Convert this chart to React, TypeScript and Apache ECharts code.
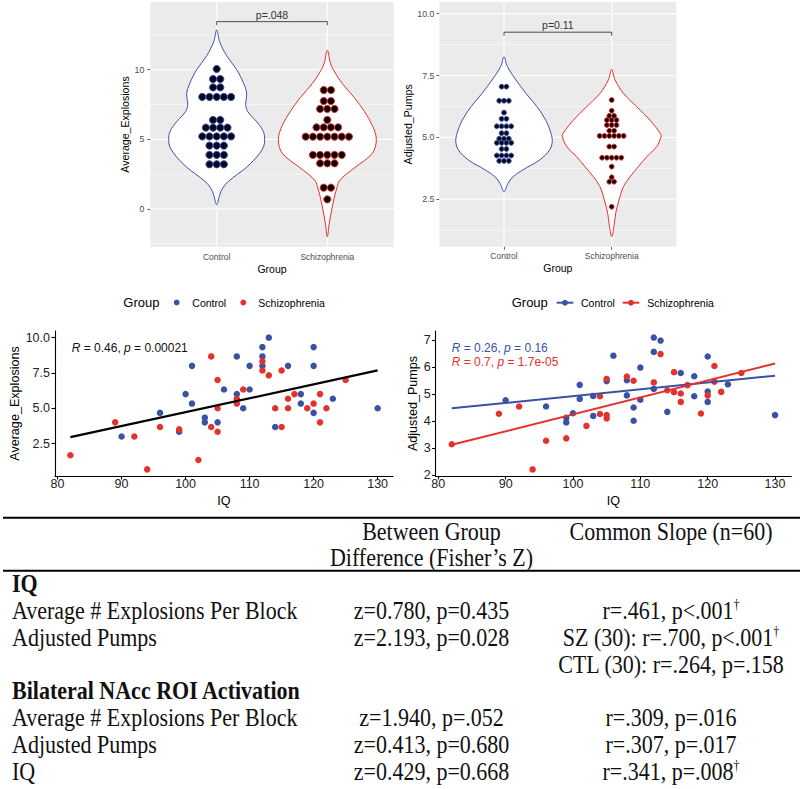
import React, { useEffect, useRef } from "react";
import * as echarts from "echarts";

const FONT = "Liberation Sans, Arial, Helvetica, sans-serif";
const SERIF = "Liberation Serif, 'Times New Roman', serif";
const BLUE = "#3a52a4";
const RED = "#e4312b";

const groupNames = ["Control", "Schizophrenia"];

// ---------- Top-left violin (Average_Explosions) ----------
const explCtrlViolinY = [0.3, 1.0, 1.5, 2.0, 2.5, 3.0, 3.5, 4.0, 4.5, 5.0, 5.5, 6.0, 6.5, 7.0, 7.5, 8.3, 9.0, 10.0, 11.0, 12.0, 12.85];
const explCtrlViolinW = [0, 0.027, 0.054, 0.108, 0.19, 0.271, 0.335, 0.389, 0.425, 0.434, 0.425, 0.389, 0.335, 0.28, 0.262, 0.271, 0.244, 0.181, 0.09, 0.027, 0];
const explSzViolinY = [-2.0, -1.0, 0.0, 0.5, 1.0, 1.5, 2.0, 2.5, 3.0, 4.0, 5.0, 6.0, 7.0, 8.0, 9.0, 10.0, 10.5, 11.4];
const explSzViolinW = [0, 0.018, 0.041, 0.054, 0.068, 0.086, 0.108, 0.172, 0.253, 0.407, 0.443, 0.407, 0.335, 0.244, 0.136, 0.054, 0.027, 0];
const explCtrlDotVal = [10.05, 9.33, 8.73, 8.04, 6.39, 5.84, 5.21, 4.55, 3.88, 3.21];
const explCtrlDotN = [1, 2, 2, 5, 2, 4, 5, 3, 3, 3];
const explSzDotVal = [8.54, 7.75, 7.18, 6.39, 5.86, 5.19, 3.88, 3.28, 1.53, 0.69];
const explSzDotN = [2, 2, 3, 1, 4, 7, 5, 3, 2, 1];
const explBracketY = [13.2, 13.45];
const explPLabel = "p=.048";
const explTicks = [0, 5, 10];
const explMinorGrid = [-2.5, 2.5, 7.5, 12.5];

// ---------- Top-right violin (Adjusted_Pumps) ----------
const pumpCtrlViolinY = [2.81, 3.14, 3.41, 3.69, 4.09, 4.49, 4.83, 5.16, 5.70, 6.24, 6.78, 7.32, 7.86, 8.26];
const pumpCtrlViolinW = [0, 0.037, 0.084, 0.176, 0.331, 0.424, 0.448, 0.436, 0.387, 0.306, 0.204, 0.111, 0.031, 0];
const pumpSzViolinY = [0.99, 1.53, 1.93, 2.47, 3.01, 3.41, 3.82, 4.22, 4.63, 5.03, 5.16, 5.70, 6.24, 6.78, 7.32, 7.75];
const pumpSzViolinW = [0, 0.025, 0.037, 0.068, 0.109, 0.17, 0.248, 0.325, 0.418, 0.458, 0.452, 0.356, 0.232, 0.109, 0.031, 0];
const pumpCtrlDotVal = [7.05, 6.48, 6.0, 5.75, 5.45, 5.17, 4.95, 4.78, 4.53, 4.27, 4.05];
const pumpCtrlDotN = [2, 3, 1, 2, 4, 2, 3, 4, 2, 4, 3];
const pumpSzDotVal = [6.51, 6.08, 5.87, 5.7, 5.5, 5.27, 5.06, 4.63, 4.18, 3.82, 3.39, 3.21, 2.2];
const pumpSzDotN = [1, 1, 2, 3, 3, 2, 6, 2, 5, 1, 1, 2, 1];
const pumpBracketY = [9.11, 9.25];
const pumpPLabel = "p=0.11";
const pumpTicks = [2.5, 5, 7.5, 10];
const pumpMinorGrid = [1.25, 3.75, 6.25, 8.75];

// ---------- Bottom-left scatter (IQ vs Average_Explosions) ----------
const explCtrlIQ = [90, 96, 99, 100, 101, 101, 103, 103, 105, 106, 108, 108, 109, 110, 110, 112, 112, 112, 113, 114, 116, 118, 118, 120, 120, 120, 123, 130];
const explCtrlVal = [3.0, 4.67, 3.33, 6.0, 8.0, 5.33, 4.33, 4.0, 4.0, 6.33, 8.67, 6.0, 5.0, 8.0, 6.33, 9.33, 8.67, 8.0, 10.0, 3.67, 8.0, 6.0, 5.33, 9.33, 8.0, 4.67, 5.67, 5.0];
const explSzIQ = [82, 89, 92, 94, 96, 99, 102, 104, 104, 105, 105, 105, 108, 108, 109, 112, 112, 113, 114, 115, 115, 116, 116, 117, 119, 120, 121, 121, 122, 125];
const explSzVal = [1.67, 4.0, 3.0, 0.67, 3.67, 3.5, 1.33, 8.67, 3.67, 7.0, 5.0, 3.33, 5.67, 5.33, 6.33, 8.33, 7.67, 7.33, 5.0, 7.67, 3.67, 5.67, 5.0, 6.0, 5.0, 5.33, 6.0, 4.0, 5.0, 7.0];
const explFitX = [82, 130];
const explFitY = [2.95, 7.68];
const explYTicks = [2.5, 5, 7.5, 10];

// ---------- Bottom-right scatter (IQ vs Adjusted_Pumps) ----------
const pumpCtrlIQ = [90, 96, 99, 99, 100, 101, 101, 103, 103, 105, 106, 108, 108, 109, 109, 110, 110, 112, 112, 112, 113, 114, 116, 118, 118, 120, 120, 120, 123, 130];
const pumpCtrlVal = [4.78, 4.55, 3.96, 4.13, 4.3, 5.35, 4.83, 4.94, 4.2, 5.49, 6.43, 5.52, 4.96, 4.51, 4.02, 5.99, 4.8, 7.1, 6.57, 5.2, 6.99, 4.35, 5.79, 5.67, 4.93, 6.4, 5.1, 4.72, 5.37, 4.23];
const pumpSzIQ = [82, 89, 92, 94, 96, 99, 102, 104, 104, 105, 105, 105, 108, 109, 112, 113, 114, 115, 115, 116, 116, 117, 119, 120, 121, 121, 122, 125];
const pumpSzVal = [3.15, 4.28, 4.55, 2.22, 3.28, 3.37, 3.83, 4.93, 4.27, 5.57, 4.23, 4.11, 5.66, 5.5, 5.44, 6.49, 5.15, 5.82, 5.08, 5.03, 4.72, 5.34, 4.29, 4.96, 6.05, 5.47, 5.09, 5.79];
const pumpFitX = [82, 130];
const pumpCtrlFitY = [4.48, 5.69];
const pumpSzFitY = [3.13, 6.14];
const pumpYTicks = [2, 3, 4, 5, 6, 7];
const iqTicks = [80, 90, 100, 110, 120, 130];

const explCorText = ["R", " = 0.46, ", "p", " = 0.00021"];
const pumpCtrlCorText = ["R", " = 0.26, ", "p", " = 0.16"];
const pumpSzCorText = ["R", " = 0.7, ", "p", " = 1.7e-05"];

// ---------- Table ----------
const tableHeadZ = ["Between Group", "Difference (Fisher\u2019s Z)"];
const tableHeadR = "Common Slope (n=60)";
const rowLabels = ["IQ", "Average # Explosions Per Block", "Adjusted Pumps", "", "Bilateral NAcc ROI Activation", "Average # Explosions Per Block", "Adjusted Pumps", "IQ"];
const rowBold = [true, false, false, false, true, false, false, false];
const colZ = ["", "z=0.780, p=0.435", "z=2.193, p=0.028", "", "", "z=1.940, p=.052", "z=0.413, p=0.680", "z=0.429, p=0.668"];
const colR = ["", "r=.461, p<.001", "SZ (30): r=.700, p<.001", "CTL (30): r=.264, p=.158", "", "r=.309, p=.016", "r=.307, p=.017", "r=.341, p=.008"];
const colRDagger = [false, true, true, false, false, false, false, true];

// ---------- helpers ----------
function zip(a: number[], b: number[]) {
  return a.map((v, i) => [v, b[i]]);
}

function panelGridSeries(axis: number, major: number[], minor: number[], cats: number[]) {
  return {
    type: "custom",
    xAxisIndex: axis,
    yAxisIndex: axis,
    z: 1,
    silent: true,
    data: [[cats[0], major[0]]],
    renderItem: (params: any, api: any) => {
      const cs = params.coordSys;
      const ch: any[] = [];
      const hline = (v: number, w: number) => {
        const p = api.coord([cats[0], v]);
        ch.push({ type: "line", shape: { x1: cs.x, y1: p[1], x2: cs.x + cs.width, y2: p[1] }, style: { stroke: "#ffffff", lineWidth: w } });
      };
      minor.forEach((v) => hline(v, 0.55));
      major.forEach((v) => hline(v, 1.1));
      cats.forEach((c) => {
        const p = api.coord([c, major[0]]);
        ch.push({ type: "line", shape: { x1: p[0], y1: cs.y, x2: p[0], y2: cs.y + cs.height }, style: { stroke: "#ffffff", lineWidth: 1.1 } });
      });
      return { type: "group", children: ch };
    },
  };
}

function violinSeries(axis: number, center: number, ys: number[], ws: number[], color: string) {
  return {
    type: "custom",
    xAxisIndex: axis,
    yAxisIndex: axis,
    z: 2,
    silent: true,
    data: [[center, ys[0]]],
    renderItem: (params: any, api: any) => {
      const n = ys.length;
      const pts: number[][] = [];
      for (let i = 0; i < n; i++) {
        const p = api.coord([center - ws[i], ys[i]]);
        pts.push([p[0], p[1]]);
      }
      for (let i = n - 2; i >= 1; i--) {
        const p = api.coord([center + ws[i], ys[i]]);
        pts.push([p[0], p[1]]);
      }
      return {
        type: "polygon",
        shape: { points: pts, smooth: 0.35 },
        style: { fill: "#ffffff", stroke: color, lineWidth: 1 },
      };
    },
  };
}

function dotSeries(axis: number, center: number, vals: number[], counts: number[], step: number, size: number, fill: string, stroke: string) {
  const data: number[][] = [];
  vals.forEach((v, i) => {
    const n = counts[i];
    for (let j = 0; j < n; j++) data.push([center + (j - (n - 1) / 2) * step, v]);
  });
  return {
    type: "scatter",
    xAxisIndex: axis,
    yAxisIndex: axis,
    z: 3,
    silent: true,
    symbolSize: size,
    data,
    itemStyle: { color: fill, borderColor: stroke, borderWidth: 1, opacity: 1 },
  };
}

function bracketSeries(axis: number, ys: number[], label: string) {
  return {
    type: "custom",
    xAxisIndex: axis,
    yAxisIndex: axis,
    z: 4,
    silent: true,
    data: [[1, ys[0], 2, ys[1]]],
    renderItem: (params: any, api: any) => {
      const a = api.coord([api.value(0), api.value(1)]);
      const b = api.coord([api.value(0), api.value(3)]);
      const c = api.coord([api.value(2), api.value(3)]);
      const d = api.coord([api.value(2), api.value(1)]);
      return {
        type: "group",
        children: [
          { type: "polyline", shape: { points: [a, b, c, d] }, style: { stroke: "#3a3a3a", lineWidth: 0.9, fill: "none" } },
          {
            type: "text",
            x: (b[0] + c[0]) / 2,
            y: b[1] - 1.5,
            style: { text: label, fontSize: 10.5, fontFamily: FONT, fill: "#333333", textAlign: "center", textVerticalAlign: "bottom" },
          },
        ],
      };
    },
  };
}

function violinXAxis(idx: number) {
  return {
    type: "value",
    gridIndex: idx,
    min: 0.4,
    max: 2.6,
    axisLine: { show: false },
    axisTick: { show: true, customValues: [1, 2], length: 3, lineStyle: { color: "#333333", width: 0.8 } },
    axisLabel: {
      show: true,
      customValues: [1, 2],
      formatter: (v: number) => groupNames[Math.round(v) - 1] || "",
      fontSize: 8.5,
      color: "#4d4d4d",
      margin: 5,
      fontFamily: FONT,
    },
    splitLine: { show: false },
    name: "Group",
    nameLocation: "middle",
    nameGap: 16,
    nameTextStyle: { fontSize: 10.5, color: "#000000", fontFamily: FONT },
  };
}

function violinYAxis(idx: number, min: number, max: number, ticks: number[], dec: number, name: string, gap: number, margin: number) {
  return {
    type: "value",
    gridIndex: idx,
    min,
    max,
    axisLine: { show: false },
    axisTick: { show: true, customValues: ticks, length: 3, lineStyle: { color: "#333333", width: 0.8 } },
    axisLabel: {
      show: true,
      customValues: ticks,
      formatter: (v: number) => v.toFixed(dec),
      fontSize: 8.8,
      color: "#4d4d4d",
      margin,
      fontFamily: FONT,
    },
    splitLine: { show: false },
    name,
    nameLocation: "middle",
    nameRotate: 90,
    nameGap: gap,
    nameTextStyle: { fontSize: 10.6, color: "#000000", fontFamily: FONT },
  };
}

function scatterXAxis(idx: number) {
  return {
    type: "value",
    gridIndex: idx,
    min: 79.6,
    max: 132.4,
    axisLine: { show: true, lineStyle: { color: "#000000", width: 1.1 } },
    axisTick: { show: true, customValues: iqTicks, length: 3.5, lineStyle: { color: "#000000", width: 1.1 } },
    axisLabel: { show: true, customValues: iqTicks, fontSize: 12.5, color: "#222222", margin: 1.5, fontFamily: FONT },
    splitLine: { show: false },
    name: "IQ",
    nameLocation: "middle",
    nameGap: 18,
    nameTextStyle: { fontSize: 12.6, color: "#000000", fontFamily: FONT },
  };
}

function scatterYAxis(idx: number, min: number, max: number, ticks: number[], dec: number, name: string, gap: number) {
  return {
    type: "value",
    gridIndex: idx,
    min,
    max,
    axisLine: { show: true, lineStyle: { color: "#000000", width: 1.1 } },
    axisTick: { show: true, customValues: ticks, length: 3.5, lineStyle: { color: "#000000", width: 1.1 } },
    axisLabel: {
      show: true,
      customValues: ticks,
      formatter: (v: number) => v.toFixed(dec),
      fontSize: 12.5,
      color: "#222222",
      margin: 5,
      fontFamily: FONT,
    },
    splitLine: { show: false },
    name,
    nameLocation: "middle",
    nameRotate: 90,
    nameGap: gap,
    nameTextStyle: { fontSize: 12.6, color: "#000000", fontFamily: FONT },
  };
}

function txt(x: number, y: number, text: string, o: any = {}) {
  return {
    type: "text",
    x,
    y,
    scaleY: o.scaleY || 1,
    silent: true,
    style: {
      text,
      fill: o.fill || "#000000",
      fontSize: o.size || 12,
      fontFamily: o.family || FONT,
      fontWeight: o.weight || "normal",
      fontStyle: o.style || "normal",
      textAlign: o.align || "left",
      textVerticalAlign: "middle",
      rich: o.rich,
    },
  };
}

function corText(x: number, y: number, parts: string[], color: string) {
  const base = { fontSize: 12, fontFamily: FONT, fill: color, color };
  return {
    type: "text",
    x,
    y,
    silent: true,
    style: {
      text: `{i|${parts[0]}}{n|${parts[1]}}{i|${parts[2]}}{n|${parts[3]}}`,
      fontSize: 12,
      fontFamily: FONT,
      fill: color,
      textAlign: "left",
      textVerticalAlign: "middle",
      rich: { i: { ...base, fontStyle: "italic" }, n: { ...base } },
    },
  };
}

function buildOption() {
  const graphics: any[] = [];

  // scatter legends
  graphics.push(txt(123.3, 302.5, "Group", { size: 13 }));
  graphics.push({ type: "circle", silent: true, shape: { cx: 176.7, cy: 302.5, r: 2.9 }, style: { fill: BLUE } });
  graphics.push(txt(192.3, 302.5, groupNames[0], { size: 10.5 }));
  graphics.push({ type: "circle", silent: true, shape: { cx: 243.3, cy: 302.5, r: 2.9 }, style: { fill: RED } });
  graphics.push(txt(258.3, 302.5, groupNames[1], { size: 10.5 }));

  graphics.push(txt(511.7, 302.7, "Group", { size: 13 }));
  graphics.push({ type: "line", silent: true, shape: { x1: 556.7, y1: 302.7, x2: 573.3, y2: 302.7 }, style: { stroke: BLUE, lineWidth: 2 } });
  graphics.push({ type: "circle", silent: true, shape: { cx: 565, cy: 302.7, r: 2.9 }, style: { fill: BLUE } });
  graphics.push(txt(581, 302.7, groupNames[0], { size: 10.5 }));
  graphics.push({ type: "line", silent: true, shape: { x1: 622.7, y1: 302.7, x2: 639.3, y2: 302.7 }, style: { stroke: RED, lineWidth: 2 } });
  graphics.push({ type: "circle", silent: true, shape: { cx: 631, cy: 302.7, r: 2.9 }, style: { fill: RED } });
  graphics.push(txt(647.3, 302.7, groupNames[1], { size: 10.5 }));

  // correlation annotations
  graphics.push(corText(71.7, 347.7, explCorText, "#111111"));
  graphics.push(corText(451.7, 347.7, pumpCtrlCorText, BLUE));
  graphics.push(corText(451.7, 361.7, pumpSzCorText, RED));

  // table
  const SY = 1.13;
  graphics.push({ type: "line", silent: true, shape: { x1: 3, y1: 517.7, x2: 800, y2: 517.7 }, style: { stroke: "#000000", lineWidth: 2 } });
  graphics.push({ type: "line", silent: true, shape: { x1: 3, y1: 570.7, x2: 800, y2: 570.7 }, style: { stroke: "#000000", lineWidth: 2 } });
  const zC = 431.5;
  const rC = 671;
  graphics.push(txt(zC, 531.5, tableHeadZ[0], { size: 22, family: SERIF, align: "center", fill: "#111111", scaleY: SY }));
  graphics.push(txt(zC, 558, tableHeadZ[1], { size: 22, family: SERIF, align: "center", fill: "#111111", scaleY: SY }));
  graphics.push(txt(rC, 531.5, tableHeadR, { size: 22, family: SERIF, align: "center", fill: "#111111", scaleY: SY }));
  rowLabels.forEach((lab, i) => {
    const y = 584 + i * 26.72;
    if (lab) graphics.push(txt(12, y, lab, { size: 22, family: SERIF, weight: rowBold[i] ? "bold" : "normal", fill: "#111111", scaleY: SY }));
    if (colZ[i]) graphics.push(txt(zC, y, colZ[i], { size: 22, family: SERIF, align: "center", fill: "#111111", scaleY: SY }));
    if (colR[i]) {
      const base = { fontSize: 22, fontFamily: SERIF, fill: "#111111", color: "#111111" };
      const text = colRDagger[i] ? `{n|${colR[i]}}{s|\u2020}` : `{n|${colR[i]}}`;
      graphics.push(
        txt(rC, y, text, {
          size: 22,
          family: SERIF,
          align: "center",
          fill: "#111111",
          scaleY: SY,
          rich: { n: { ...base }, s: { ...base, fontSize: 12, verticalAlign: "top" } },
        })
      );
    }
  });

  return {
    animation: false,
    backgroundColor: "#ffffff",
    grid: [
      { left: 150.3, top: 2, width: 243.4, height: 245, show: true, backgroundColor: "#ebebeb", borderWidth: 0 },
      { left: 439.4, top: 2, width: 236.9, height: 244.7, show: true, backgroundColor: "#ebebeb", borderWidth: 0 },
      { left: 55, top: 331, width: 338, height: 145 },
      { left: 435.6, top: 331, width: 355.6, height: 145 },
    ],
    xAxis: [violinXAxis(0), violinXAxis(1), scatterXAxis(2), scatterXAxis(3)],
    yAxis: [
      violinYAxis(0, -2.73, 14.86, explTicks, 0, "Average_Explosions", 20, 6),
      violinYAxis(1, 0.585, 10.47, pumpTicks, 1, "Adjusted_Pumps", 24, 5),
      scatterYAxis(2, 0.2, 10.47, explYTicks, 1, "Average_Explosions", 33.5),
      scatterYAxis(3, 1.976, 7.344, pumpYTicks, 0, "Adjusted_Pumps", 14.3),
    ],
    series: [
      panelGridSeries(0, explTicks, explMinorGrid, [1, 2]),
      panelGridSeries(1, pumpTicks, pumpMinorGrid, [1, 2]),
      violinSeries(0, 1, explCtrlViolinY, explCtrlViolinW, BLUE),
      violinSeries(0, 2, explSzViolinY, explSzViolinW, RED),
      violinSeries(1, 1, pumpCtrlViolinY, pumpCtrlViolinW, BLUE),
      violinSeries(1, 2, pumpSzViolinY, pumpSzViolinW, RED),
      dotSeries(0, 1, explCtrlDotVal, explCtrlDotN, 0.0651, 7.2, "#06061f", BLUE),
      dotSeries(0, 2, explSzDotVal, explSzDotN, 0.0651, 7.2, "#0a0000", RED),
      dotSeries(1, 1, pumpCtrlDotVal, pumpCtrlDotN, 0.0446, 4.8, "#06061f", BLUE),
      dotSeries(1, 2, pumpSzDotVal, pumpSzDotN, 0.0446, 4.8, "#0a0000", RED),
      bracketSeries(0, explBracketY, explPLabel),
      bracketSeries(1, pumpBracketY, pumpPLabel),
      {
        type: "scatter", name: groupNames[0], xAxisIndex: 2, yAxisIndex: 2, z: 3, silent: true,
        symbolSize: 6.5, data: zip(explCtrlIQ, explCtrlVal), itemStyle: { color: BLUE, opacity: 1 },
      },
      {
        type: "scatter", name: groupNames[1], xAxisIndex: 2, yAxisIndex: 2, z: 3, silent: true,
        symbolSize: 6.5, data: zip(explSzIQ, explSzVal), itemStyle: { color: RED, opacity: 1 },
      },
      {
        type: "line", name: "fit", xAxisIndex: 2, yAxisIndex: 2, z: 4, silent: true, symbol: "none",
        data: zip(explFitX, explFitY), lineStyle: { color: "#000000", width: 2.2 },
      },
      {
        type: "scatter", name: groupNames[0], xAxisIndex: 3, yAxisIndex: 3, z: 3, silent: true,
        symbolSize: 6.5, data: zip(pumpCtrlIQ, pumpCtrlVal), itemStyle: { color: BLUE, opacity: 1 },
      },
      {
        type: "scatter", name: groupNames[1], xAxisIndex: 3, yAxisIndex: 3, z: 3, silent: true,
        symbolSize: 6.5, data: zip(pumpSzIQ, pumpSzVal), itemStyle: { color: RED, opacity: 1 },
      },
      {
        type: "line", name: "fitControl", xAxisIndex: 3, yAxisIndex: 3, z: 4, silent: true, symbol: "none",
        data: zip(pumpFitX, pumpCtrlFitY), lineStyle: { color: BLUE, width: 2 },
      },
      {
        type: "line", name: "fitSchizophrenia", xAxisIndex: 3, yAxisIndex: 3, z: 4, silent: true, symbol: "none",
        data: zip(pumpFitX, pumpSzFitY), lineStyle: { color: RED, width: 2 },
      },
    ],
    graphic: { elements: graphics },
  };
}

export default function App() {
  const ref = useRef<HTMLDivElement>(null);
  useEffect(() => {
    if (!ref.current) return;
    const chart = echarts.init(ref.current, null, { renderer: "svg" });
    chart.setOption(buildOption() as any);
    return () => chart.dispose();
  }, []);
  return (
    <div
      ref={ref}
      style={{ position: "absolute", left: 0, top: 0, width: 800, height: 789, background: "#ffffff" }}
    />
  );
}
